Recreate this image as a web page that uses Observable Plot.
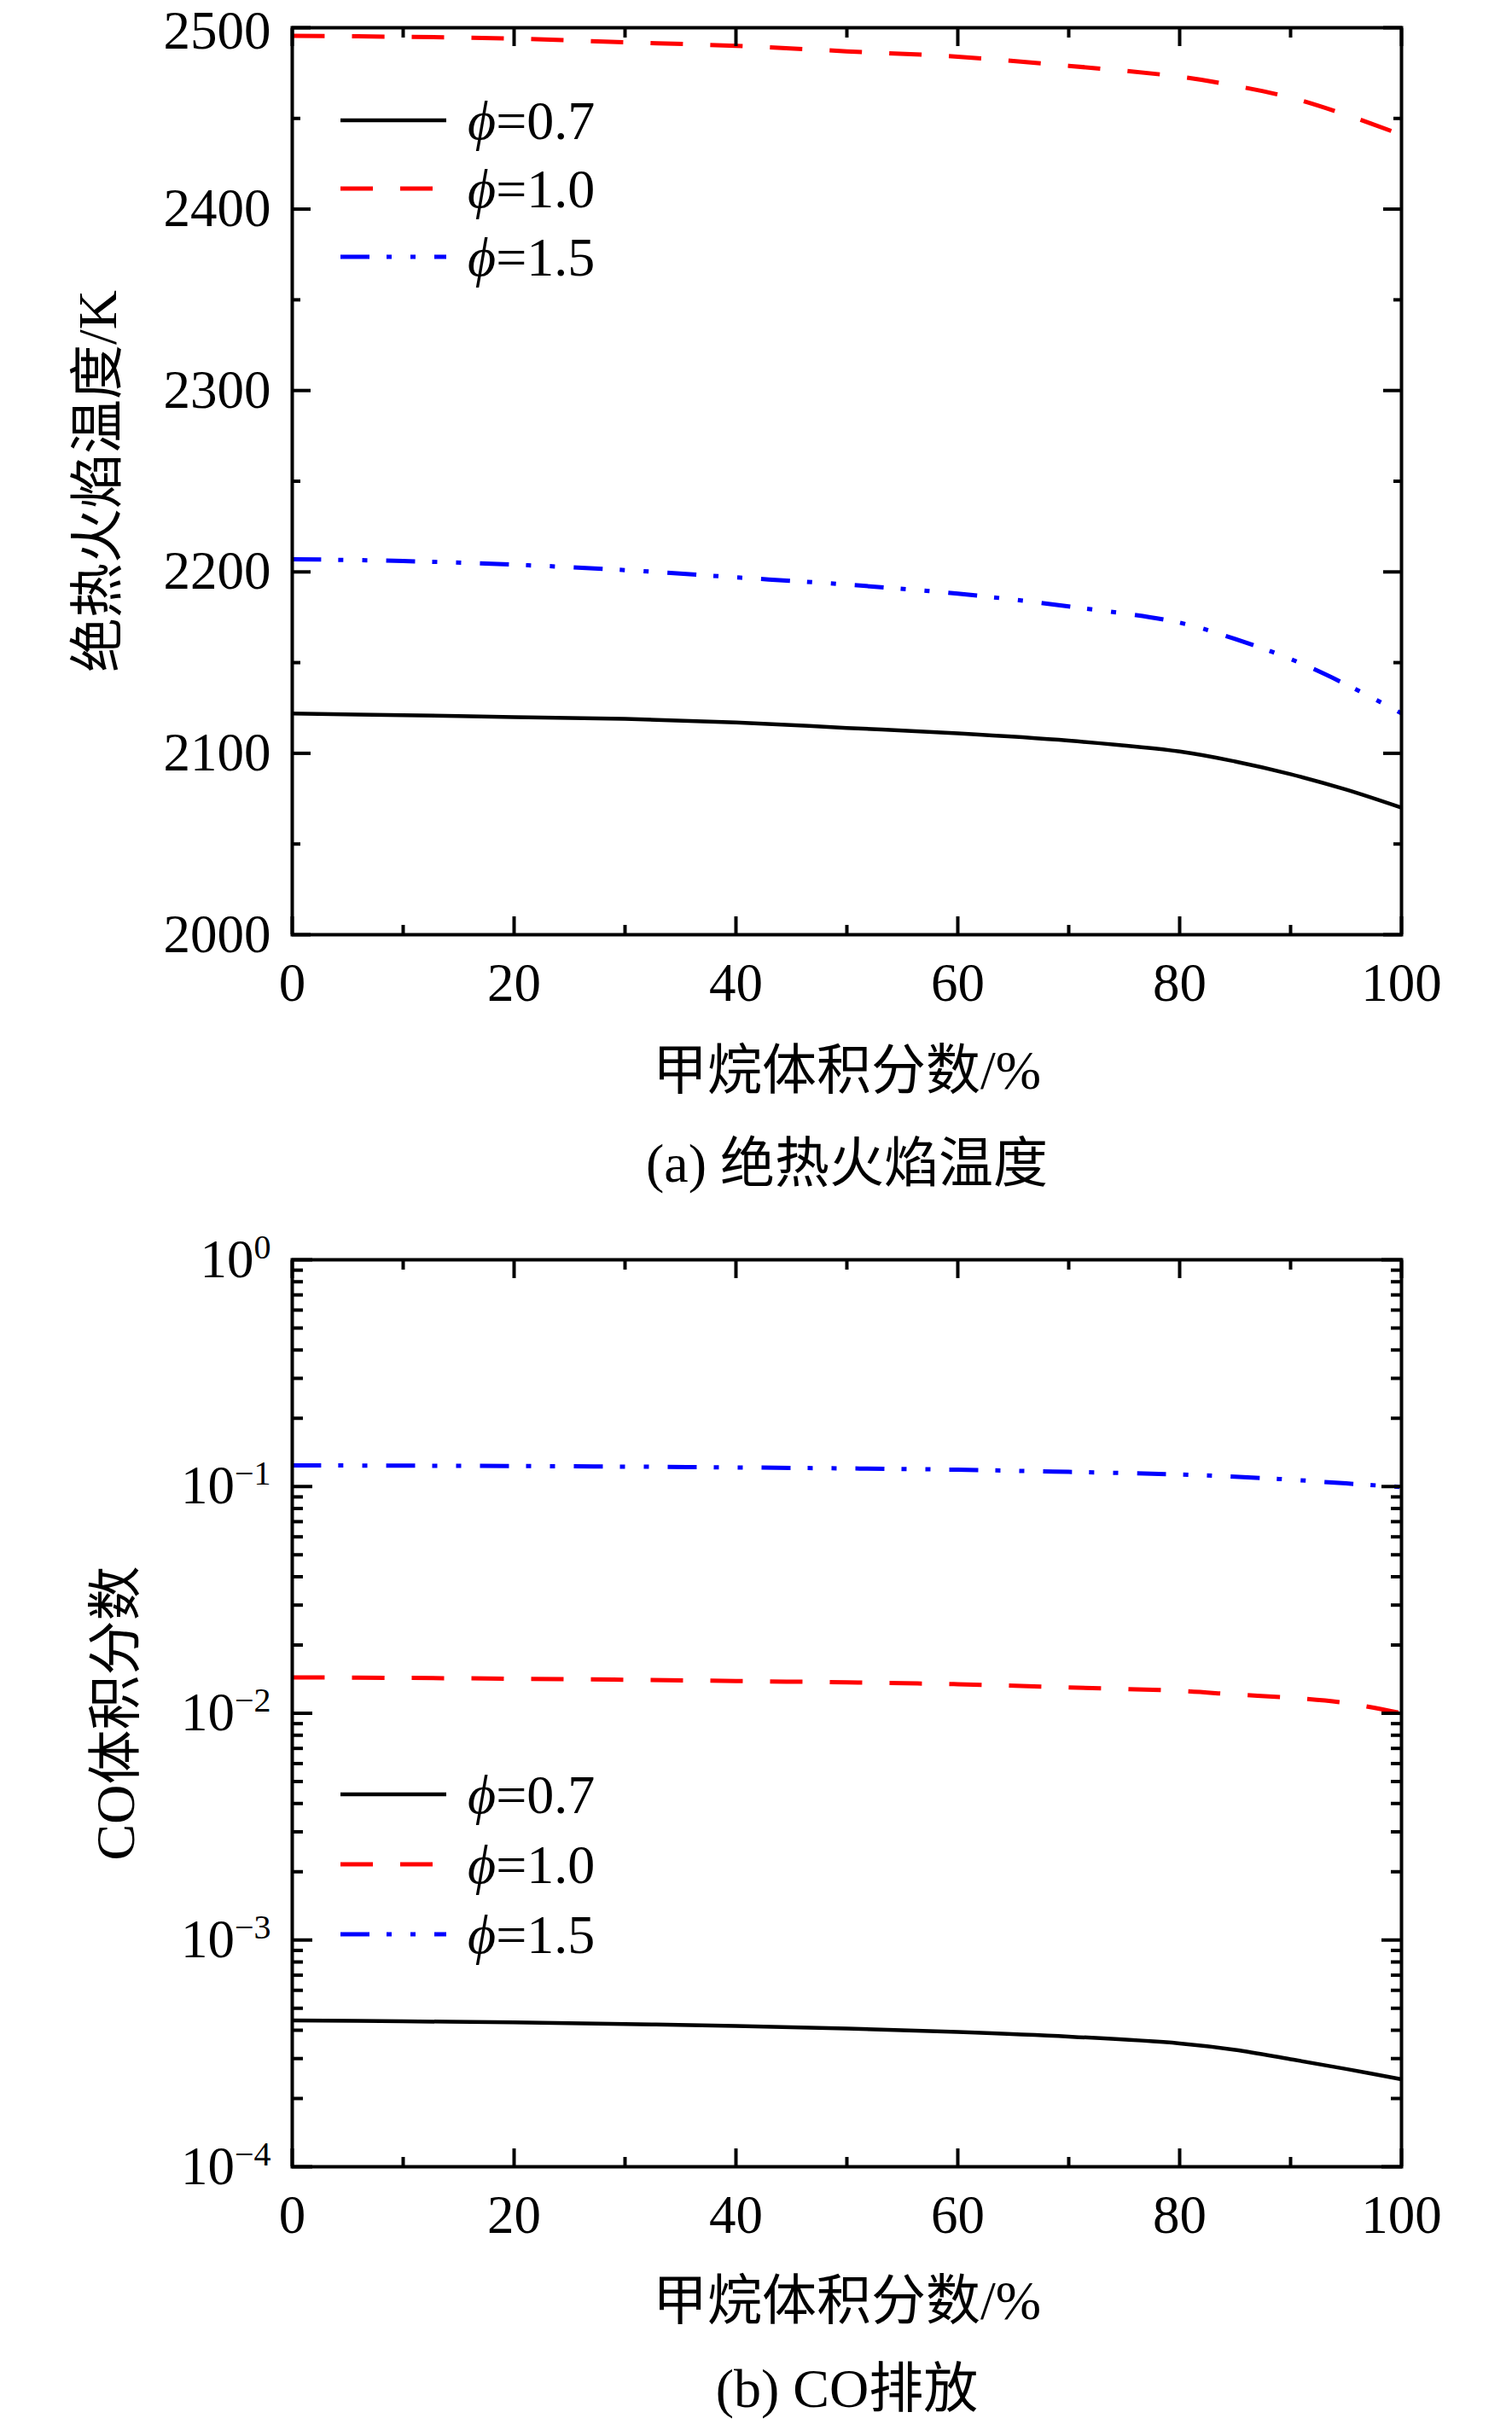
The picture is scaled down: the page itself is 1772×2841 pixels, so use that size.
<!DOCTYPE html>
<html><head><meta charset="utf-8">
<script src="https://cdn.jsdelivr.net/npm/d3@7"></script>
<script src="https://cdn.jsdelivr.net/npm/@observablehq/plot@0.6"></script>
<style>
body{margin:0;background:#fff;}
#wrap{position:relative;width:1772px;height:2841px;background:#fff;}
#wrap > svg{display:block;}
</style></head><body><div id="wrap"></div>
<script>
// ---- data ----
const methane = [0,10,20,30,40,50,60,70,80,85,90,95,100];
const phiLabels = ["0.7","1.0","1.5"];
const tempPhi07 = [2122,2121,2120,2119,2117,2114,2111,2107,2101,2095.5,2088.5,2080,2070];
const tempPhi10 = [2495.5,2495,2494,2492,2490,2487,2484,2479,2473,2468,2461.5,2452,2441];
const tempPhi15 = [2207,2206,2204,2201,2197,2193,2188,2181,2172,2163,2152,2138,2122];
const coPhi07 = [4.42e-4,4.38e-4,4.33e-4,4.26e-4,4.18e-4,4.07e-4,3.93e-4,3.75e-4,3.5e-4,3.28e-4,2.98e-4,2.7e-4,2.43e-4];
const coPhi10 = [0.0144,0.01432,0.0142,0.01405,0.01388,0.01368,0.01343,0.0130,0.01255,0.0121,0.0117,0.0111,0.0100];
const coPhi15 = [0.124,0.1236,0.1231,0.1224,0.1214,0.1202,0.1186,0.1160,0.1130,0.1105,0.1072,0.1032,0.0995];
const xMajor = [0,20,40,60,80,100];
const xMinor = [10,30,50,70,90];
const tMajor = [2000,2100,2200,2300,2400,2500];
const tMinor = [2050,2150,2250,2350,2450];
const coMajor = [1e-4,1e-3,1e-2,1e-1,1];
const coMinor = [];
[-4,-3,-2,-1].forEach(e => { for (let k = 2; k <= 9; k++) coMinor.push(k * Math.pow(10, e)); });
const xLabel = "甲烷体积分数/%";
const yLabelA = "绝热火焰温度/K";
const yLabelB = "CO体积分数";
const captionA = "(a) 绝热火焰温度";
const captionB = "(b) CO排放";

const colors = ["#000000", "#ff0000", "#0000ff"];
const dashes = [null, "38,32", "34,20,6,22,6,22"];
const widths = [4.5, 5, 5];

const FONT = '"Liberation Serif","Noto Sans CJK SC",serif';
const rows = (vals) => methane.map((x, i) => ({x, y: vals[i]}));

function seriesMarks(list) {
  return list.map((vals, i) => Plot.line(rows(vals), {
    x: "x", y: "y", stroke: colors[i], strokeWidth: widths[i],
    strokeDasharray: dashes[i], curve: "catmull-rom", strokeLinecap: "butt"
  }));
}

function frameAxes(yMaj, yMin, yFmt, majLen, minLen) {
  return [
    Plot.axisX({anchor: "bottom", ticks: xMajor, tickSize: -21, tickPadding: 54, strokeWidth: 4, tickFormat: d => String(d), fontSize: 63, label: null}),
    Plot.axisX({anchor: "bottom", ticks: xMinor, tickSize: -11, strokeWidth: 4, tickFormat: () => "", label: null}),
    Plot.axisX({anchor: "top", ticks: xMajor, tickSize: -21, strokeWidth: 4, tickFormat: () => "", label: null}),
    Plot.axisX({anchor: "top", ticks: xMinor, tickSize: -11, strokeWidth: 4, tickFormat: () => "", label: null}),
    Plot.axisY({anchor: "left", ticks: yMaj, tickSize: -majLen, tickPadding: 25 + majLen, strokeWidth: 4, tickFormat: yFmt, fontSize: 63, label: null}),
    Plot.axisY({anchor: "left", ticks: yMin, tickSize: -minLen, strokeWidth: 4, tickFormat: () => "", label: null}),
    Plot.axisY({anchor: "right", ticks: yMaj, tickSize: -majLen, strokeWidth: 4, tickFormat: () => "", label: null}),
    Plot.axisY({anchor: "right", ticks: yMin, tickSize: -minLen, strokeWidth: 4, tickFormat: () => "", label: null}),
    Plot.frame({strokeWidth: 4})
  ];
}

function labelMarks(ylab, ydx, cap, labDy, capDy) {
  return [
    Plot.text([ylab], {text: d => d, frameAnchor: "left", rotate: -90, dx: ydx, fontSize: 64, lineAnchor: "middle", textAnchor: "middle"}),
    Plot.text([xLabel], {text: d => d, frameAnchor: "bottom", dy: labDy, fontSize: 64, lineAnchor: "middle", textAnchor: "middle"}),
    Plot.text([cap], {text: d => d, frameAnchor: "bottom", dy: capDy, fontSize: 64, lineAnchor: "middle", textAnchor: "middle"})
  ];
}

const plotA = Plot.plot({
  width: 1772, height: 1440,
  marginTop: 32, marginBottom: 345, marginLeft: 342, marginRight: 130,
  style: {fontFamily: FONT, fontSize: "64px", color: "#000", background: "#fff"},
  x: {domain: [0, 100]},
  y: {domain: [2000, 2500]},
  marks: [
    ...seriesMarks([tempPhi07, tempPhi10, tempPhi15]),
    ...frameAxes(tMajor, tMinor, d => String(d), 22, 10),
    ...labelMarks(yLabelA, -227, captionA, 160, 269)
  ]
});

// nudge the top tick label a few pixels so it stays inside the page
plotA.querySelectorAll('g[aria-label="y-axis tick label"] text').forEach(t => {
  if (t.textContent === "2500") t.setAttribute("dy", "4");
});

const plotB = Plot.plot({
  width: 1772, height: 1401,
  marginTop: 36, marginBottom: 302, marginLeft: 342, marginRight: 130,
  style: {fontFamily: FONT, fontSize: "64px", color: "#000", background: "#fff"},
  x: {domain: [0, 100]},
  y: {type: "log", domain: [1e-4, 1]},
  marks: [
    ...seriesMarks([coPhi07, coPhi10, coPhi15]),
    ...frameAxes(coMajor, coMinor, d => "10^" + Math.round(Math.log10(d)), 24, 13),
    ...labelMarks(yLabelB, -206, captionB, 158, 261)
  ]
});

// superscript exponents on the log axis labels
plotB.querySelectorAll('g[aria-label="y-axis tick label"] text').forEach(t => {
  const m = /^10\^(-?\d+)$/.exec(t.textContent);
  if (!m) return;
  const exp = m[1].replace("-", "\u2212");
  t.textContent = "10";
  const ts = document.createElementNS("http://www.w3.org/2000/svg", "tspan");
  ts.setAttribute("dy", "-22");
  ts.setAttribute("font-size", "40");
  ts.textContent = exp;
  t.appendChild(ts);
});

const wrap = document.getElementById("wrap");
wrap.appendChild(plotA);
wrap.appendChild(plotB);

// legends (overlay)
const ov = d3.select(wrap).append("svg")
  .attr("width", 1772).attr("height", 2841)
  .style("position", "absolute").style("left", 0).style("top", 0)
  .style("pointer-events", "none")
  .style("font-family", FONT);
function legend(rowsY) {
  phiLabels.forEach((lab, i) => {
    const y = rowsY[i];
    ov.append("line").attr("x1", 399).attr("x2", 523).attr("y1", y).attr("y2", y)
      .attr("stroke", colors[i]).attr("stroke-width", widths[i])
      .attr("stroke-dasharray", dashes[i]);
    const t = ov.append("text").attr("x", 548).attr("y", y).attr("dy", "0.34em")
      .attr("font-size", 64).attr("fill", "#000");
    t.append("tspan").attr("font-style", "italic").text("ϕ");
    t.append("tspan").text("=" + lab);
  });
}
legend([141, 221, 301]);
legend([2103, 2185, 2267]);
</script></body></html>
